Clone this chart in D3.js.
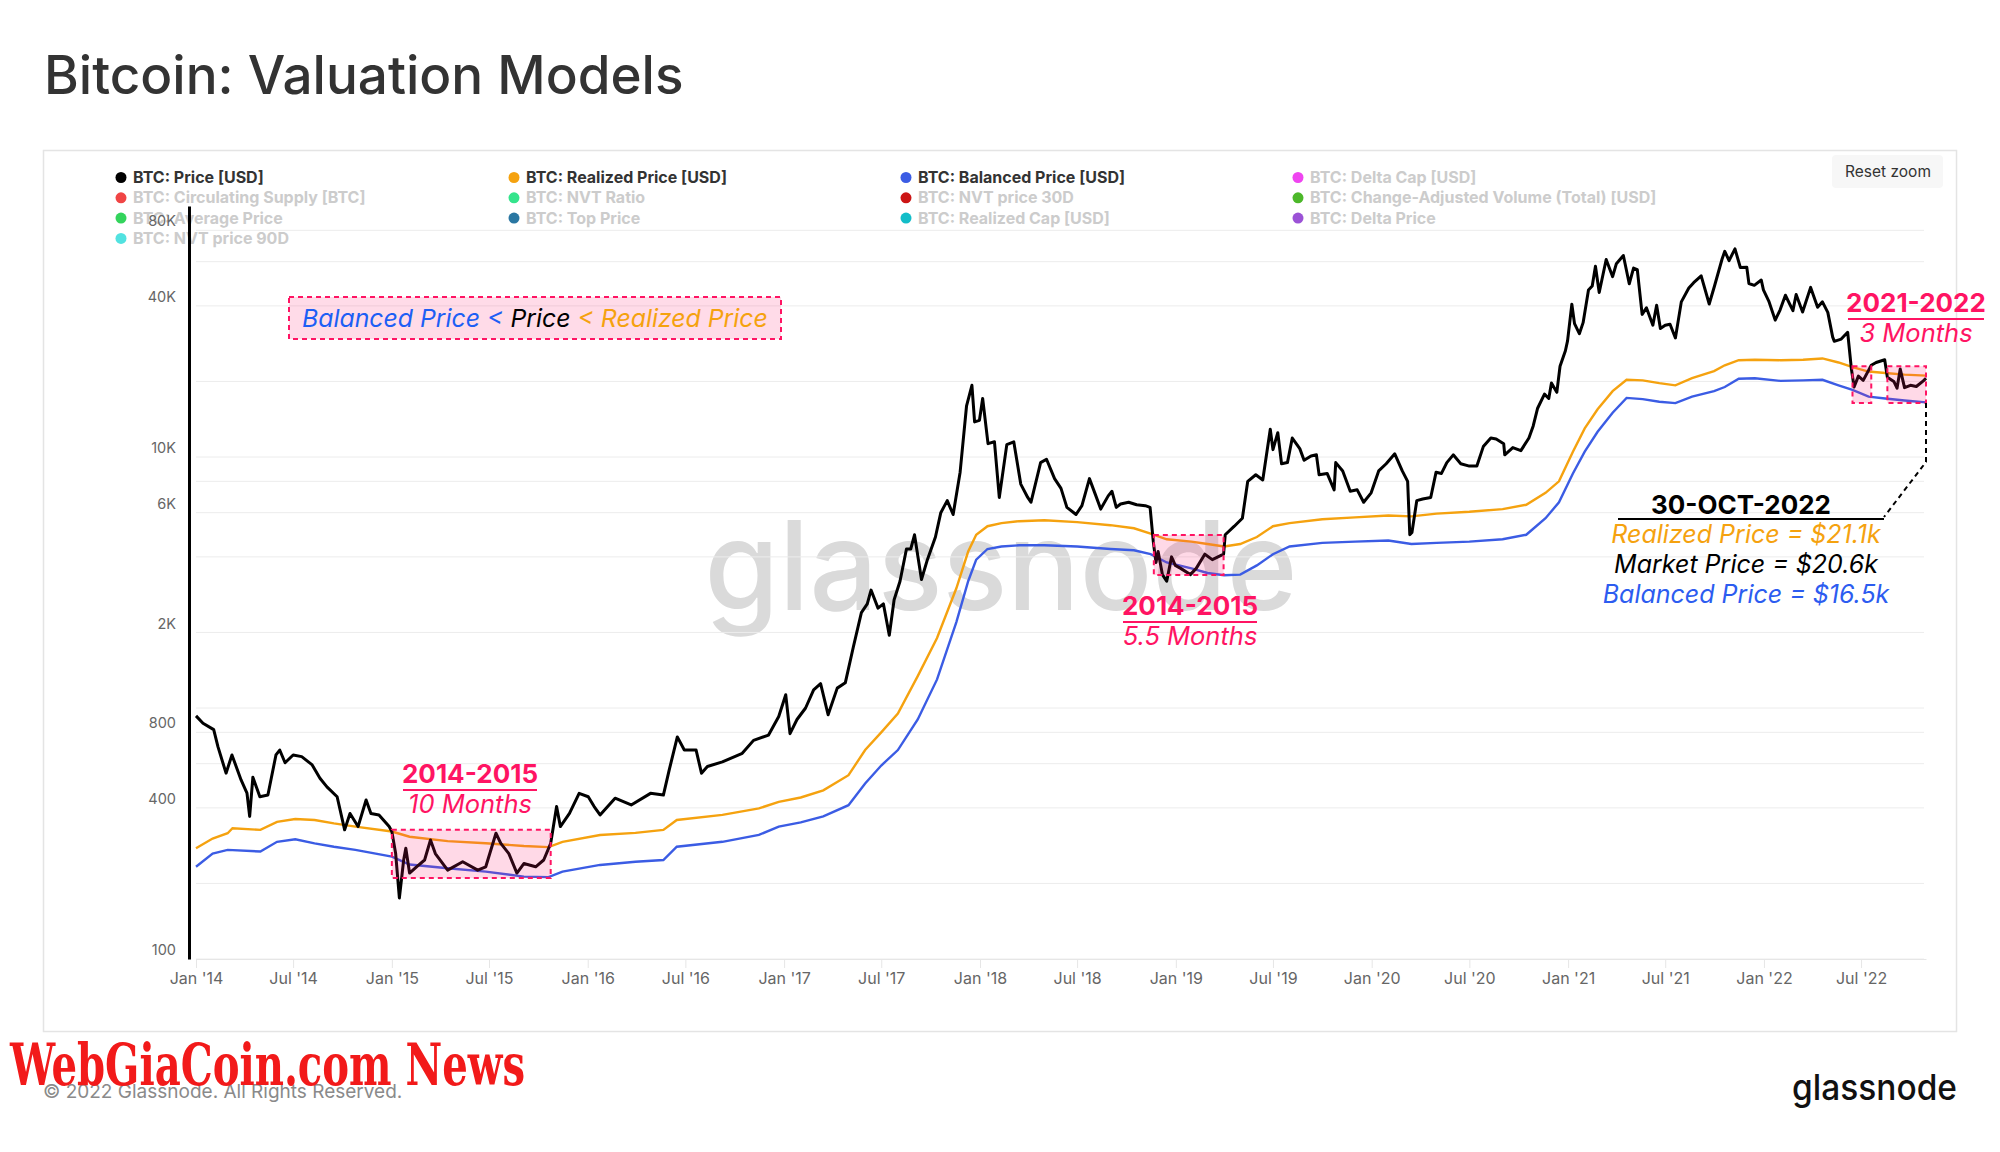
<!DOCTYPE html>
<html>
<head>
<meta charset="utf-8">
<script src="https://cdn.jsdelivr.net/npm/d3@7/dist/d3.min.js"></script>
<style>
  html, body { margin: 0; padding: 0; background: #ffffff; }
  svg { display: block; }
</style>
</head>
<body>
<svg id="chart" width="2000" height="1152" font-family="Inter, 'Noto Sans', sans-serif"></svg>
<script>
// ---------------- DATA ----------------
const priceUSD = [
["2014-01-01",930],["2014-01-14",870],["2014-02-03",820],["2014-02-11",700],["2014-02-26",550],["2014-03-09",650],
["2014-03-26",517],["2014-04-06",458],["2014-04-11",370],["2014-04-17",530],["2014-04-30",443],["2014-05-15",450],
["2014-05-30",650],["2014-06-06",680],["2014-06-16",605],["2014-07-01",650],["2014-07-17",640],["2014-08-05",595],
["2014-08-20",525],["2014-09-02",485],["2014-09-21",443],["2014-10-05",327],["2014-10-15",380],["2014-10-30",337],
["2014-11-14",430],["2014-11-23",380],["2014-12-08",375],["2014-12-27",337],["2015-01-01",322],["2015-01-08",264],
["2015-01-15",175],["2015-01-23",248],["2015-01-27",276],["2015-02-03",220],["2015-02-16",233],["2015-03-03",248],
["2015-03-14",298],["2015-03-23",263],["2015-04-15",226],["2015-05-13",244],["2015-06-10",226],["2015-06-25",233],
["2015-07-14",317],["2015-07-23",289],["2015-08-07",263],["2015-08-22",220],["2015-09-04",240],["2015-09-26",233],
["2015-10-11",248],["2015-10-24",289],["2015-11-04",405],["2015-11-11",337],["2015-11-28",380],["2015-12-16",457],
["2016-01-02",443],["2016-01-13",405],["2016-01-24",375],["2016-02-21",437],["2016-03-22",411],["2016-04-27",457],
["2016-05-21",450],["2016-06-01",568],["2016-06-16",767],["2016-06-29",680],["2016-07-21",680],["2016-07-31",550],
["2016-08-11",585],["2016-09-08",610],["2016-10-15",660],["2016-11-05",743],["2016-12-03",780],["2016-12-22",925],
["2017-01-04",1130],["2017-01-12",790],["2017-01-25",900],["2017-02-10",1000],["2017-02-25",1180],["2017-03-10",1250],
["2017-03-24",940],["2017-04-10",1200],["2017-04-25",1260],["2017-05-10",1750],["2017-05-25",2400],["2017-06-05",2600],
["2017-06-12",2950],["2017-06-25",2500],["2017-07-05",2600],["2017-07-16",1950],["2017-07-25",2700],["2017-08-05",3200],
["2017-08-17",4300],["2017-08-25",4300],["2017-09-01",4900],["2017-09-14",3250],["2017-09-25",3900],["2017-10-10",4800],
["2017-10-20",6000],["2017-11-01",6700],["2017-11-12",5900],["2017-11-25",8700],["2017-12-07",16000],["2017-12-17",19300],
["2017-12-22",13800],["2017-12-31",14000],["2018-01-06",17100],["2018-01-16",11300],["2018-01-28",11500],["2018-02-06",6900],
["2018-02-20",11200],["2018-03-05",11500],["2018-03-18",7800],["2018-03-31",6900],["2018-04-06",6600],["2018-04-24",9500],
["2018-05-05",9800],["2018-05-20",8200],["2018-06-01",7500],["2018-06-12",6300],["2018-06-29",5900],["2018-07-10",6400],
["2018-07-24",8200],["2018-08-05",7000],["2018-08-14",6200],["2018-08-28",7000],["2018-09-04",7300],["2018-09-12",6300],
["2018-09-20",6500],["2018-10-05",6600],["2018-10-20",6450],["2018-11-05",6400],["2018-11-14",6300],["2018-11-20",4600],
["2018-11-25",3800],["2018-11-29",4200],["2018-12-07",3400],["2018-12-15",3200],["2018-12-24",4000],["2018-12-31",3700],
["2019-01-10",3600],["2019-01-28",3400],["2019-02-08",3600],["2019-02-24",4100],["2019-03-10",3900],["2019-03-31",4100],
["2019-04-03",4900],["2019-04-20",5300],["2019-05-05",5700],["2019-05-15",8000],["2019-05-30",8500],["2019-06-12",8100],
["2019-06-26",12900],["2019-07-01",10700],["2019-07-10",12500],["2019-07-17",9400],["2019-07-28",9500],["2019-08-06",11900],
["2019-08-20",10800],["2019-08-28",9700],["2019-09-10",10100],["2019-09-20",10200],["2019-09-25",8500],["2019-10-10",8600],
["2019-10-23",7400],["2019-10-26",9500],["2019-11-08",8800],["2019-11-22",7300],["2019-12-05",7400],["2019-12-17",6600],
["2019-12-31",7200],["2020-01-14",8800],["2020-01-28",9400],["2020-02-13",10300],["2020-02-27",8800],["2020-03-08",8000],
["2020-03-12",4900],["2020-03-16",5000],["2020-03-25",6700],["2020-04-05",6800],["2020-04-20",6900],["2020-04-30",8700],
["2020-05-10",8600],["2020-05-20",9500],["2020-06-01",10200],["2020-06-15",9400],["2020-07-01",9200],["2020-07-15",9200],
["2020-07-27",11000],["2020-08-10",11900],["2020-08-20",11800],["2020-09-03",11300],["2020-09-05",10200],["2020-09-20",10900],
["2020-10-05",10600],["2020-10-20",11900],["2020-10-28",13300],["2020-11-05",15600],["2020-11-18",17800],["2020-11-26",17100],
["2020-12-01",19700],["2020-12-11",18100],["2020-12-17",23000],["2020-12-27",26500],["2020-12-31",29000],["2021-01-08",40600],
["2021-01-13",34000],["2021-01-22",31000],["2021-01-29",34300],["2021-02-08",46300],["2021-02-15",48000],["2021-02-21",57500],
["2021-02-28",45200],["2021-03-13",61200],["2021-03-25",52300],["2021-04-01",58900],["2021-04-14",63500],["2021-04-25",49000],
["2021-05-03",56600],["2021-05-10",55800],["2021-05-19",37000],["2021-05-27",39300],["2021-06-08",33500],["2021-06-15",40200],
["2021-06-22",32500],["2021-07-01",33500],["2021-07-10",33800],["2021-07-20",29800],["2021-07-31",41500],["2021-08-14",47100],
["2021-08-23",49500],["2021-09-06",52700],["2021-09-21",40700],["2021-10-01",48100],["2021-10-15",61500],["2021-10-20",66000],
["2021-10-28",60600],["2021-11-08",67500],["2021-11-18",56900],["2021-11-30",57000],["2021-12-04",49100],["2021-12-14",48300],
["2021-12-27",50700],["2021-12-31",46300],["2022-01-10",41800],["2022-01-22",35100],["2022-01-31",38500],["2022-02-10",44100],
["2022-02-24",38300],["2022-03-02",44400],["2022-03-14",37800],["2022-03-29",47400],["2022-04-11",39500],["2022-04-20",41500],
["2022-04-30",37700],["2022-05-09",30100],["2022-05-12",28900],["2022-05-25",29500],["2022-06-06",31400],["2022-06-13",22400],
["2022-06-18",19000],["2022-06-26",21000],["2022-07-05",20200],["2022-07-20",23200],["2022-07-29",23800],["2022-08-14",24400],
["2022-08-19",20800],["2022-08-31",20000],["2022-09-06",18800],["2022-09-12",22400],["2022-09-20",18900],["2022-10-01",19300],
["2022-10-12",19100],["2022-10-25",20100],["2022-10-30",20600]
];

const realizedPriceUSD = [
["2014-01-01",276],["2014-02-01",302],["2014-03-01",317],["2014-03-10",332],["2014-05-01",327],["2014-06-01",352],
["2014-07-05",361],["2014-08-10",358],["2014-09-15",347],["2014-10-25",337],["2015-01-01",322],["2015-02-03",307],
["2015-04-15",295],["2015-06-25",289],["2015-09-04",282],["2015-10-20",279],["2015-11-15",293],["2016-01-24",312],
["2016-03-30",318],["2016-05-21",327],["2016-06-15",358],["2016-09-08",375],["2016-11-15",398],["2016-12-22",423],
["2017-02-01",440],["2017-03-15",470],["2017-05-01",540],["2017-06-01",680],["2017-07-01",800],["2017-08-01",950],
["2017-09-07",1340],["2017-10-13",1900],["2017-11-18",3000],["2017-12-10",4200],["2017-12-25",4900],["2018-01-15",5300],
["2018-02-10",5450],["2018-03-15",5550],["2018-05-01",5600],["2018-07-01",5500],["2018-09-01",5350],
["2018-10-15",5200],["2018-11-15",4950],["2018-12-15",4700],["2019-01-30",4600],["2019-03-01",4500],["2019-04-01",4400],
["2019-05-01",4500],["2019-06-01",4800],["2019-07-01",5300],["2019-08-01",5450],["2019-10-01",5650],["2019-12-01",5750],
["2020-02-01",5850],["2020-03-15",5800],["2020-05-01",5950],["2020-07-01",6050],["2020-09-01",6200],["2020-10-15",6450],
["2020-11-20",7200],["2020-12-15",8000],["2021-01-10",10500],["2021-02-01",13000],["2021-02-25",15500],["2021-03-25",18300],
["2021-04-20",20300],["2021-05-20",20200],["2021-06-20",19700],["2021-07-20",19300],["2021-08-20",20600],["2021-09-30",22000],
["2021-10-20",23200],["2021-11-15",24300],["2021-12-15",24400],["2022-02-01",24300],["2022-03-15",24400],["2022-04-20",24700],
["2022-05-20",23800],["2022-06-15",22800],["2022-07-15",21900],["2022-08-15",21600],["2022-09-20",21300],["2022-10-30",21100]
];

const balancedPriceUSD = [
["2014-01-01",233],["2014-02-01",263],["2014-03-01",272],["2014-05-01",268],["2014-06-01",293],["2014-07-05",300],
["2014-08-10",289],["2014-09-15",280],["2014-10-25",272],["2015-01-01",256],["2015-02-03",238],["2015-04-15",230],
["2015-06-25",223],["2015-09-04",213],["2015-10-20",212],["2015-11-15",223],["2016-01-24",237],["2016-03-30",244],
["2016-05-21",248],["2016-06-15",280],["2016-09-08",293],["2016-11-15",312],["2016-12-22",337],
["2017-02-01",350],["2017-03-15",370],["2017-05-01",410],["2017-06-01",500],["2017-07-01",590],["2017-08-01",680],
["2017-09-07",900],["2017-10-13",1300],["2017-11-18",2200],["2017-12-10",3200],["2017-12-25",3900],["2018-01-15",4300],
["2018-02-10",4400],["2018-03-15",4450],["2018-05-01",4450],["2018-07-01",4400],["2018-09-01",4300],
["2018-10-15",4250],["2018-11-15",4100],["2018-12-15",3800],["2019-01-30",3600],["2019-03-01",3450],["2019-04-01",3380],
["2019-05-01",3400],["2019-06-01",3700],["2019-07-01",4100],["2019-08-01",4400],["2019-10-01",4550],["2019-12-01",4600],
["2020-02-01",4650],["2020-03-15",4500],["2020-05-01",4550],["2020-07-01",4600],["2020-09-01",4700],["2020-10-15",4900],
["2020-11-20",5700],["2020-12-15",6600],["2021-01-10",8600],["2021-02-01",10500],["2021-02-25",12600],["2021-03-25",15000],
["2021-04-20",17200],["2021-05-20",17000],["2021-06-20",16600],["2021-07-20",16400],["2021-08-20",17400],["2021-09-30",18300],
["2021-10-20",19000],["2021-11-15",20500],["2021-12-15",20600],["2022-02-01",20100],["2022-03-15",20200],["2022-04-20",20300],
["2022-05-20",19300],["2022-06-15",18500],["2022-07-15",17400],["2022-08-15",17100],["2022-09-20",16800],["2022-10-30",16500]
];

const xTickDates = ["2014-01-01","2014-07-01","2015-01-01","2015-07-01","2016-01-01","2016-07-01","2017-01-01","2017-07-01",
  "2018-01-01","2018-07-01","2019-01-01","2019-07-01","2020-01-01","2020-07-01","2021-01-01","2021-07-01","2022-01-01","2022-07-01"];
const xTickLabels = ["Jan '14","Jul '14","Jan '15","Jul '15","Jan '16","Jul '16","Jan '17","Jul '17","Jan '18","Jul '18",
  "Jan '19","Jul '19","Jan '20","Jul '20","Jan '21","Jul '21","Jan '22","Jul '22"];
const yGridValues = [100,200,400,600,800,1000,2000,4000,6000,8000,10000,20000,40000,60000,80000];
const yTickValues = [100,400,800,2000,6000,10000,40000,80000];
const yTickLabels = ["100","400","800","2K","6K","10K","40K","80K"];

const legendLabels = ["BTC: Price [USD]","BTC: Realized Price [USD]","BTC: Balanced Price [USD]","BTC: Delta Cap [USD]",
  "BTC: Circulating Supply [BTC]","BTC: NVT Ratio","BTC: NVT price 30D","BTC: Change-Adjusted Volume (Total) [USD]",
  "BTC: Average Price","BTC: Top Price","BTC: Realized Cap [USD]","BTC: Delta Price","BTC: NVT price 90D"];
const legendColors = ["#000000","#f5a20f","#3b5ce4","#ef45f0","#f04545","#34e48c","#cc1515","#4cb82a","#33d45c","#2a77a2",
  "#12bdc8","#9b52d6","#52e2e0"];
const legendActive = [true,true,true,false,false,false,false,false,false,false,false,false,false];

// highlighted periods: [startDate, endDate, lowValue, highValue]
const periodBoxes = [
  ["2015-01-01","2015-10-24",210,327],
  ["2018-11-21","2019-03-31",3390,4890],
  ["2022-06-15","2022-07-20",16400,23000],
  ["2022-08-19","2022-10-30",16400,23000]
];

// ---------------- DRAW ----------------
const parse = d3.timeParse("%Y-%m-%d");
const svg = d3.select("#chart");
const x = d3.scaleTime().domain([parse("2014-01-01"), parse("2022-10-30")]).range([196, 1926]);
const y = d3.scaleLog().domain([100, 100000]).range([959, 206]);

const colPrice = "#000000", colReal = "#f5a20f", colBal = "#3b5ce4", colPink = "#ff1463";

// title
svg.append("text").attr("x", 44).attr("y", 94).attr("font-size", 53).attr("font-weight", 500)
  .attr("fill", "#333").text("Bitcoin: Valuation Models");

// container
svg.append("rect").attr("x", 43.5).attr("y", 150.5).attr("width", 1913).attr("height", 881)
  .attr("fill", "#fff").attr("stroke", "#e4e4e4").attr("stroke-width", 1.5);

// watermark
svg.append("text").attr("x", 1001).attr("y", 610).attr("text-anchor", "middle").attr("font-size", 124)
  .attr("font-weight", 500).attr("fill", "#dadada").attr("textLength", 593).attr("lengthAdjust", "spacingAndGlyphs")
  .text("glassnode");

// gridlines
svg.append("g").selectAll("line").data(yGridValues).join("line")
  .attr("x1", 196).attr("x2", 1924).attr("y1", d => y(d)).attr("y2", d => y(d))
  .attr("stroke", "#ececec").attr("stroke-width", 1);

// x axis
const xAxis = d3.axisBottom(x).tickValues(xTickDates.map(parse))
  .tickFormat((d, i) => xTickLabels[i]).tickSize(9).tickSizeOuter(0).tickPadding(5);
const gx = svg.append("g").attr("transform", "translate(0,959)").call(xAxis);
gx.select(".domain").attr("stroke", "#e6e6e6");
gx.selectAll(".tick line").attr("stroke", "#e6e6e6");
gx.selectAll(".tick text").attr("font-size", 16).attr("fill", "#666").attr("font-family", "Inter, sans-serif");

// legend
const leg = svg.append("g");
legendLabels.forEach((lab, i) => {
  const col = i % 4, row = Math.floor(i / 4);
  const cx = [121, 514, 906, 1298][col], cy = 177.5 + row * 20.3;
  leg.append("circle").attr("cx", cx).attr("cy", cy).attr("r", 5.5).attr("fill", legendColors[i]);
  leg.append("text").attr("x", cx + 12).attr("y", cy + 5.5).attr("font-size", 16).attr("font-weight", 700)
    .attr("fill", legendActive[i] ? "#333" : "#cccccc").text(lab);
});

// reset zoom button
svg.append("rect").attr("x", 1832).attr("y", 155).attr("width", 111).attr("height", 33).attr("rx", 4).attr("fill", "#f7f7f7");
svg.append("text").attr("x", 1888).attr("y", 177).attr("text-anchor", "middle").attr("font-size", 15.5)
  .attr("fill", "#333").text("Reset zoom");

// series
const line = d3.line().x(d => x(parse(d[0]))).y(d => y(d[1]));
svg.append("path").datum(realizedPriceUSD).attr("d", line).attr("fill", "none").attr("stroke", colReal).attr("stroke-width", 2.4);
svg.append("path").datum(balancedPriceUSD).attr("d", line).attr("fill", "none").attr("stroke", colBal).attr("stroke-width", 2.4);
svg.append("path").datum(priceUSD).attr("d", line).attr("fill", "none").attr("stroke", colPrice).attr("stroke-width", 3)
  .attr("stroke-linejoin", "round");

// y axis (price axis, black line)
const yAxis = d3.axisLeft(y).tickValues(yTickValues).tickFormat((d, i) => yTickLabels[i]).tickSize(0).tickPadding(13).tickSizeOuter(0);
const gy = svg.append("g").attr("transform", "translate(189,0)").call(yAxis);
gy.select(".domain").attr("stroke", "#000").attr("stroke-width", 3);
gy.selectAll(".tick text").attr("font-size", 14.5).attr("fill", "#666").attr("dy", "-0.3em").attr("font-family", "Inter, sans-serif");

// highlighted period boxes
svg.append("g").selectAll("rect").data(periodBoxes).join("rect")
  .attr("x", d => x(parse(d[0]))).attr("width", d => x(parse(d[1])) - x(parse(d[0])))
  .attr("y", d => y(d[3])).attr("height", d => y(d[2]) - y(d[3]))
  .attr("fill", "rgba(255,30,110,0.17)").attr("stroke", colPink).attr("stroke-width", 2).attr("stroke-dasharray", "5,4");

// inequality box
svg.append("rect").attr("x", 289).attr("y", 297).attr("width", 492).attr("height", 42)
  .attr("fill", "rgba(255,40,120,0.17)").attr("stroke", colPink).attr("stroke-width", 2).attr("stroke-dasharray", "5,4");
const ineq = svg.append("text").attr("x", 302).attr("y", 327).attr("font-size", 24.8).attr("font-style", "italic");
ineq.append("tspan").attr("fill", "#1d5ff5").text("Balanced Price < ");
ineq.append("tspan").attr("fill", "#000").text("Price");
ineq.append("tspan").attr("fill", "#f5a20f").text(" < Realized Price");

// period labels
function periodLabel(cx, by, title, sub, halfW) {
  svg.append("text").attr("x", cx).attr("y", by).attr("text-anchor", "middle").attr("font-size", 26)
    .attr("font-weight", 700).attr("fill", colPink).text(title);
  svg.append("line").attr("x1", cx - halfW).attr("x2", cx + halfW).attr("y1", by + 7).attr("y2", by + 7)
    .attr("stroke", colPink).attr("stroke-width", 2);
  svg.append("text").attr("x", cx).attr("y", by + 30).attr("text-anchor", "middle").attr("font-size", 25.5)
    .attr("font-style", "italic").attr("fill", colPink).text(sub);
}
periodLabel(470, 783, "2014-2015", "10 Months", 67);
periodLabel(1190, 615, "2014-2015", "5.5 Months", 67);
periodLabel(1916, 312, "2021-2022", "3 Months", 68);

// callout
const endD = parse("2022-10-30");
svg.append("path").attr("d", `M${x(endD)},${y(16400)} L${x(endD)},462 L1884,517`)
  .attr("fill", "none").attr("stroke", "#000").attr("stroke-width", 2).attr("stroke-dasharray", "5,4");
svg.append("line").attr("x1", 1618).attr("x2", 1884).attr("y1", 519).attr("y2", 519).attr("stroke", "#000").attr("stroke-width", 2);
svg.append("text").attr("x", 1741).attr("y", 514).attr("text-anchor", "middle").attr("font-size", 26)
  .attr("font-weight", 700).attr("fill", "#000").text("30-OCT-2022");
const callLines = [["Realized Price = $21.1k", "#f5a20f", 543], ["Market Price = $20.6k", "#000", 573], ["Balanced Price = $16.5k", "#2c5cf0", 603]];
callLines.forEach(c => svg.append("text").attr("x", 1746).attr("y", c[2]).attr("text-anchor", "middle").attr("font-size", 25)
  .attr("font-style", "italic").attr("fill", c[1]).text(c[0]));

// footer
svg.append("text").attr("x", 43).attr("y", 1098).attr("font-size", 19).attr("fill", "#8a8a8a")
  .text("© 2022 Glassnode. All Rights Reserved.");
svg.append("text").attr("x", 10).attr("y", 1085).attr("font-size", 58).attr("font-weight", 700)
  .attr("font-family", "'DejaVu Serif Condensed', 'DejaVu Serif', serif").attr("font-stretch", "condensed").attr("fill", "#f21a1a")
  .attr("textLength", 515).attr("lengthAdjust", "spacingAndGlyphs").text("WebGiaCoin.com News");
svg.append("text").attr("x", 1792).attr("y", 1100).attr("font-size", 36).attr("font-weight", 500).attr("fill", "#111")
  .attr("textLength", 165).attr("lengthAdjust", "spacingAndGlyphs").text("glassnode");
</script>
</body>
</html>
